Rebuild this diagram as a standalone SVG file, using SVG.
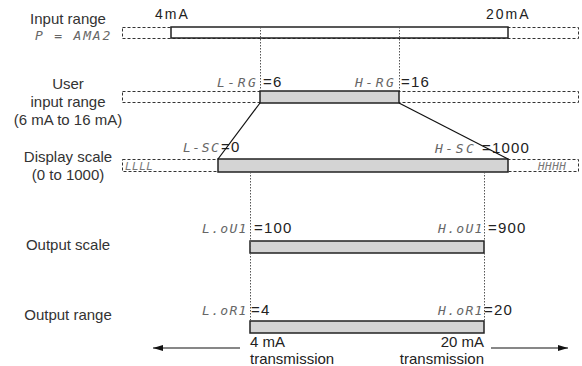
<svg xmlns="http://www.w3.org/2000/svg" width="582" height="366" viewBox="0 0 582 366">
<defs>
<style>
.lbl{font-family:"Liberation Sans",Arial,sans-serif;font-size:15px;fill:#333;text-anchor:middle}
.val{font-family:"Liberation Sans",Arial,sans-serif;font-size:15px;fill:#222;letter-spacing:1.2px}
.ma{font-family:"Liberation Sans",Arial,sans-serif;font-size:14px;fill:#222;letter-spacing:2px}
.seg{font-family:"DejaVu Sans Mono","Liberation Mono",monospace;font-size:13px;font-style:italic;fill:#666}
.small{font-family:"DejaVu Sans Mono","Liberation Mono",monospace;font-size:11px;font-style:italic;fill:#777;letter-spacing:0.5px}
.bot{font-family:"Liberation Sans",Arial,sans-serif;font-size:15px;fill:#222}
.dash{fill:none;stroke:#333;stroke-width:1;stroke-dasharray:3 2}
.bar{fill:#d4d4d4;stroke:#222;stroke-width:1.5}
.wbar{fill:#fff;stroke:#222;stroke-width:1.5}
.dot{fill:none;stroke:#555;stroke-width:1;stroke-dasharray:1.5 1.5}
.ln{fill:none;stroke:#111;stroke-width:1.2}
</style>
<marker id="ah" viewBox="0 0 10 6" refX="10" refY="3" markerWidth="10" markerHeight="6" markerUnits="userSpaceOnUse" orient="auto">
<path d="M0,0 L10,3 L0,6 Z" fill="#111"/>
</marker>
</defs>
<rect width="582" height="366" fill="#fff"/>

<g id="input-range">
<text class="lbl" x="68" y="24">Input range</text>
<text class="seg" x="35" y="40" style="letter-spacing:1.8px">P = AMA2</text>
<rect class="dash" x="122.5" y="27.5" width="456" height="11"/>
<rect class="wbar" x="171" y="27" width="337" height="11"/>
<text class="ma" x="155" y="19">4mA</text>
<text class="ma" x="486" y="19">20mA</text>
</g>

<g id="user-input-range">
<text class="lbl" x="68" y="89">User</text>
<text class="lbl" x="68" y="107">input range</text>
<text class="lbl" x="68" y="125">(6 mA to 16 mA)</text>
<rect class="dash" x="122.5" y="91.5" width="456" height="11"/>
<rect class="bar" x="260" y="91" width="139" height="12"/>
<text class="seg" x="217" y="87" style="letter-spacing:2.5px">L-RG</text>
<text class="val" x="263" y="87">=6</text>
<text class="seg" x="355" y="87" style="letter-spacing:2.5px">H-RG</text>
<text class="val" x="401" y="87">=16</text>
</g>

<g id="display-scale">
<text class="lbl" x="68" y="162">Display scale</text>
<text class="lbl" x="68" y="180">(0 to 1000)</text>
<rect class="dash" x="122.5" y="159.5" width="456" height="12"/>
<rect class="bar" x="218" y="159" width="290" height="13"/>
<text class="small" x="125" y="170">LLLL</text>
<text class="small" x="538" y="170">HHHH</text>
<text class="seg" x="183" y="152" style="letter-spacing:1.5px">L-SC</text>
<text class="val" x="221" y="152">=0</text>
<text class="seg" x="435" y="153" style="letter-spacing:2.5px">H-SC</text>
<text class="val" x="482" y="153">=1000</text>
</g>

<g id="output-scale">
<text class="lbl" x="68" y="250">Output scale</text>
<rect class="bar" x="250" y="241" width="234" height="12"/>
<text class="seg" x="202" y="233" style="letter-spacing:1.3px">L.oU1</text>
<text class="val" x="254" y="233">=100</text>
<text class="seg" x="438" y="233" style="letter-spacing:1.3px">H.oU1</text>
<text class="val" x="488" y="233">=900</text>
</g>

<g id="output-range">
<text class="lbl" x="68" y="320">Output range</text>
<rect class="bar" x="250" y="321" width="234" height="12"/>
<text class="seg" x="202" y="315" style="letter-spacing:1.3px">L.oR1</text>
<text class="val" x="251" y="315">=4</text>
<text class="seg" x="438" y="315" style="letter-spacing:1.3px">H.oR1</text>
<text class="val" x="484" y="315">=20</text>
<text class="bot" x="250" y="347">4 mA</text>
<text class="bot" x="250" y="364">transmission</text>
<text class="bot" x="484" y="347" text-anchor="end">20 mA</text>
<text class="bot" x="484" y="364" text-anchor="end">transmission</text>
</g>

<g id="connectors">
<line class="dot" x1="260.5" y1="27" x2="260.5" y2="91"/>
<line class="dot" x1="399.5" y1="27" x2="399.5" y2="91"/>
<line class="ln" x1="260" y1="103" x2="218" y2="159"/>
<line class="ln" x1="399" y1="103" x2="508" y2="159"/>
<line class="dot" x1="250.5" y1="172" x2="250.5" y2="321"/>
<line class="dot" x1="484.5" y1="172" x2="484.5" y2="321"/>
<line class="ln" x1="240" y1="348" x2="153" y2="348" marker-end="url(#ah)"/>
<line class="ln" x1="491" y1="348" x2="568" y2="348" marker-end="url(#ah)"/>
</g>
</svg>
